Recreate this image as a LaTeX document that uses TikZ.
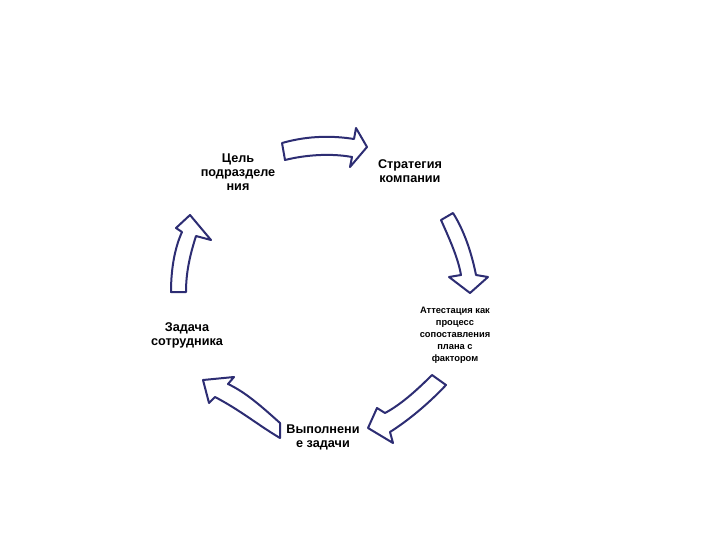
\documentclass[tikz,border=0pt]{standalone}
\usepackage{fontspec}
\setmainfont{Liberation Sans}
\definecolor{navy}{RGB}{45,45,115}
\begin{document}
\begin{tikzpicture}[x=0.75pt,y=-0.75pt,
  barrow/.style={draw=navy,line width=1.5pt,fill=white,line join=round},
  lbl/.style={align=center,font=\bfseries\fontsize{9.5}{10.5}\selectfont,inner sep=0pt},
  slbl/.style={align=center,font=\bfseries\fontsize{7}{9}\selectfont,inner sep=0pt}]
\useasboundingbox (0,0) rectangle (720,540);
\node[lbl] (cel) at (238,172) {Цель\\подразделе\\ния};
\node[lbl] (str) at (410,171) {Стратегия\\компании};
\node[slbl] (att) at (455,335) {Аттестация как\\процесс\\сопоставления\\плана с\\фактором};
\node[lbl] (zad) at (187,335) {Задача\\сотрудника};
\node[lbl] (vyp) at (323,437) {Выполнени\\е задачи};
% top arrow
\draw[barrow] (282,143) .. controls (310,135) and (335,136) .. (354,139) -- (356,128) -- (367,147) -- (350,167) -- (352,157) .. controls (330,153) and (305,155) .. (285,160) -- cycle;
% right arrow
\draw[barrow] (441,220) .. controls (450,240) and (458,258) .. (461,275) -- (449,277) -- (470,293) -- (488,277) -- (476,275) .. controls (472,255) and (465,232) .. (453,213) -- cycle;
% bottom right arrow
\draw[barrow] (432,375) .. controls (415,392) and (400,405) .. (385,413) -- (377,408) -- (368,428) -- (393,443) -- (390,432) .. controls (412,418) and (432,400) .. (446,385) -- cycle;
% bottom left arrow
\draw[barrow] (280,423) .. controls (260,405) and (245,392) .. (228,384) -- (234,377) -- (203,380) -- (209,403) -- (215,397) .. controls (240,410) and (258,425) .. (280,438) -- cycle;
% left arrow
\draw[barrow] (171,292) .. controls (171,265) and (176,245) .. (182,232) -- (176,228) -- (190,215) -- (211,240) -- (196,236) .. controls (190,255) and (186,272) .. (186,292) -- cycle;
\end{tikzpicture}
\end{document}
